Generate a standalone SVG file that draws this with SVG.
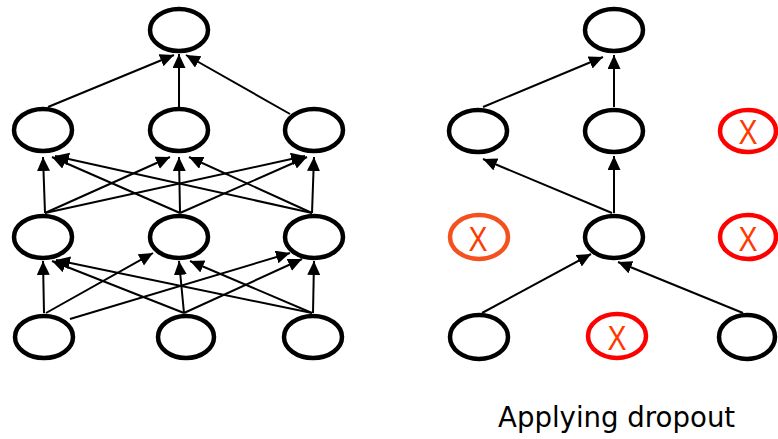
<svg xmlns="http://www.w3.org/2000/svg" width="778" height="439" viewBox="0 0 778 439">
<defs>
<marker id="ah" markerWidth="15" markerHeight="14" refX="14" refY="6.5" orient="auto" markerUnits="userSpaceOnUse">
<path d="M0,0 L14,6.5 L0,13 z" fill="#000"/>
</marker>
<style>
.n{fill:#fff;stroke:#000;stroke-width:4.5}
.d{fill:#fff;stroke:#ff0000;stroke-width:4.5}
.o{fill:#fff;stroke:#f4511e;stroke-width:4.5}
.x{font-family:"Liberation Sans",Arial,sans-serif;font-size:35px;fill:#ff3a00;text-anchor:middle}
.e line{stroke:#000;stroke-width:2;marker-end:url(#ah)}
.t{font-family:"DejaVu Sans",Verdana,sans-serif;font-size:27.6px;fill:#000}
</style>
</defs>
<rect width="778" height="439" fill="#fff"/>
<g id="connectors" class="e">
<!-- left network -->
<line x1="48" y1="107" x2="174" y2="55"/>
<line x1="179" y1="107" x2="179" y2="54"/>
<line x1="290" y1="114" x2="186" y2="55"/>
<line x1="45" y1="213" x2="43" y2="157"/>
<line x1="180" y1="213" x2="52" y2="157"/>
<line x1="312" y1="213" x2="55" y2="156"/>
<line x1="45" y1="213" x2="170" y2="157"/>
<line x1="180" y1="213" x2="179" y2="157"/>
<line x1="312" y1="213" x2="189" y2="157"/>
<line x1="45" y1="213" x2="305" y2="156"/>
<line x1="180" y1="213" x2="307" y2="157"/>
<line x1="312" y1="213" x2="314" y2="157"/>
<line x1="44" y1="313" x2="43" y2="261"/>
<line x1="184" y1="313" x2="52" y2="261"/>
<line x1="312" y1="313" x2="56" y2="260"/>
<line x1="46" y1="313" x2="153" y2="253"/>
<line x1="184" y1="313" x2="179" y2="261"/>
<line x1="312" y1="313" x2="190" y2="261"/>
<line x1="70" y1="319" x2="290" y2="253"/>
<line x1="184" y1="313" x2="302" y2="259"/>
<line x1="313" y1="313" x2="314" y2="261"/>
<!-- right network -->
<line x1="483" y1="107" x2="603" y2="57"/>
<line x1="614" y1="107" x2="614" y2="55"/>
<line x1="612" y1="213" x2="483" y2="159"/>
<line x1="614" y1="213" x2="614" y2="156"/>
<line x1="482" y1="313" x2="591" y2="254"/>
<line x1="743" y1="313" x2="618" y2="262"/>
</g>
<!-- left network nodes -->
<g id="a1"><ellipse class="n" cx="179" cy="30" rx="29" ry="21"/></g>
<g id="a2l"><ellipse class="n" cx="43" cy="130" rx="29" ry="21"/></g>
<g id="a2m"><ellipse class="n" cx="179" cy="130" rx="29" ry="21"/></g>
<g id="a2r"><ellipse class="n" cx="314" cy="130" rx="29" ry="21"/></g>
<g id="a3l"><ellipse class="n" cx="43" cy="237" rx="29" ry="21"/></g>
<g id="a3m"><ellipse class="n" cx="179" cy="237" rx="29" ry="21"/></g>
<g id="a3r"><ellipse class="n" cx="314" cy="237" rx="29" ry="21"/></g>
<g id="a4l"><ellipse class="n" cx="44" cy="337" rx="29" ry="21"/></g>
<g id="a4m"><ellipse class="n" cx="186" cy="337" rx="28" ry="21"/></g>
<g id="a4r"><ellipse class="n" cx="313" cy="337" rx="29" ry="21"/></g>
<!-- right network nodes -->
<g id="b1"><ellipse class="n" cx="614" cy="30" rx="29" ry="21"/></g>
<g id="b2l"><ellipse class="n" cx="478" cy="131" rx="29" ry="21"/></g>
<g id="b2m"><ellipse class="n" cx="614" cy="131" rx="29" ry="21"/></g>
<g id="b2r"><ellipse class="d" cx="748" cy="131" rx="28" ry="21"/><text class="x" x="748" y="144" textLength="19" lengthAdjust="spacingAndGlyphs">X</text></g>
<g id="b3l"><ellipse class="o" cx="479" cy="237" rx="29" ry="22"/><text class="x" x="478" y="251" textLength="19" lengthAdjust="spacingAndGlyphs">X</text></g>
<g id="b3m"><ellipse class="n" cx="614" cy="237" rx="29" ry="21"/></g>
<g id="b3r"><ellipse class="d" cx="748" cy="237" rx="28" ry="22"/><text class="x" x="748" y="251" textLength="19" lengthAdjust="spacingAndGlyphs">X</text></g>
<g id="b4l"><ellipse class="n" cx="479" cy="337" rx="29" ry="22"/></g>
<g id="b4m"><ellipse class="d" cx="617" cy="336" rx="29" ry="22"/><text class="x" x="617" y="350" textLength="19" lengthAdjust="spacingAndGlyphs">X</text></g>
<g id="b4r"><ellipse class="n" cx="747" cy="337" rx="28" ry="22"/></g>
<text class="t" x="498" y="427">Applying dropout</text>
</svg>
